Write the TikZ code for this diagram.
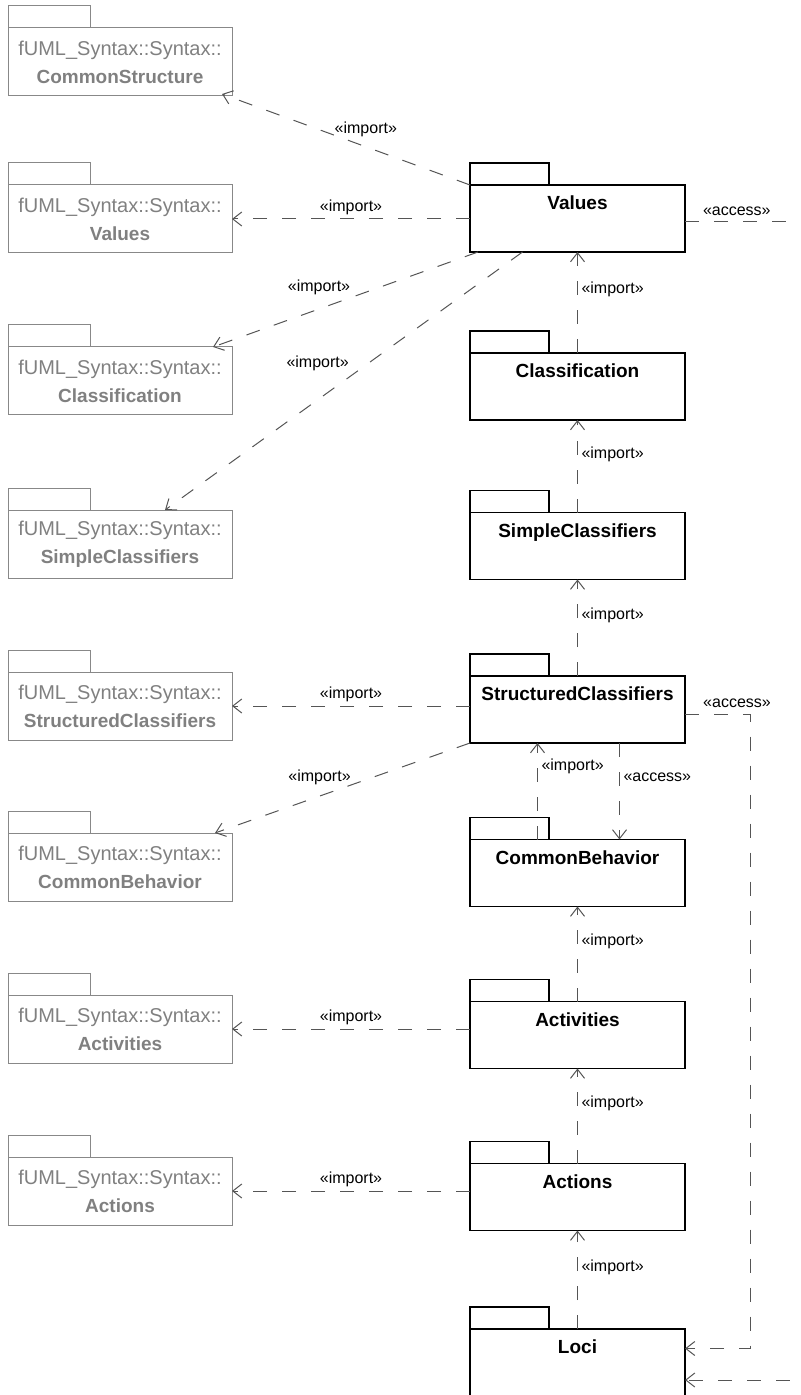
\documentclass[tikz,border=0pt]{standalone}
\usepackage{fontspec}
\setmainfont{Liberation Sans}
\usetikzlibrary{arrows.meta}

\definecolor{syngray}{HTML}{888888}
\definecolor{syntext}{HTML}{808080}
\definecolor{depgray}{HTML}{555555}

\begin{document}
\begin{tikzpicture}[
                    x=0.5pt, y=-0.5pt,
                    every node/.style={outer sep=0pt},
                    syn/.style={draw=syngray, line width=0.5pt, minimum width=112pt, minimum height=34pt,
                                inner sep=0pt, align=center, text=syntext, font=\fontsize{10}{14}\selectfont},
                    synTab/.style={draw=syngray, line width=0.5pt, minimum width=41pt, minimum height=11pt,
                                   inner sep=0pt, anchor=south west},
                    pkg/.style={draw, line width=0.6pt, minimum width=107.5pt, inner sep=0pt,
                                text height=12.4pt, text depth=21.1pt, font=\fontsize{9.5}{11}\selectfont\bfseries},
                    pkgTab/.style={draw, line width=0.6pt, minimum width=39.5pt, minimum height=11pt,
                                   inner sep=0pt, anchor=south west},
                    dep/.style={draw=depgray, line width=0.5pt, dash pattern=on 7pt off 7.5pt,
                                -{Straight Barb[length=4.5pt,width=7pt]}},
                    lbl/.style={font=\fontsize{8}{10}\selectfont, text=black, inner sep=2pt}
                  ]
  \useasboundingbox (0,0) rectangle (801,1395);

  % imported syntax packages
  \node[syn] (lcs) at (120,62) {fUML\_Syntax::Syntax::\\{\bfseries\fontsize{9.5}{14}\selectfont CommonStructure}};
  \node[synTab] (lcs-tab) at (lcs.north west) {};
  \node[syn] (lval) at (120,219) {fUML\_Syntax::Syntax::\\{\bfseries\fontsize{9.5}{14}\selectfont Values}};
  \node[synTab] (lval-tab) at (lval.north west) {};
  \node[syn] (lcls) at (120,381) {fUML\_Syntax::Syntax::\\{\bfseries\fontsize{9.5}{14}\selectfont Classification}};
  \node[synTab] (lcls-tab) at (lcls.north west) {};
  \node[syn] (lsc) at (120,544) {fUML\_Syntax::Syntax::\\{\bfseries\fontsize{9.5}{14}\selectfont SimpleClassifiers}};
  \node[synTab] (lsc-tab) at (lsc.north west) {};
  \node[syn] (lstc) at (120,706) {fUML\_Syntax::Syntax::\\{\bfseries\fontsize{9.5}{14}\selectfont StructuredClassifiers}};
  \node[synTab] (lstc-tab) at (lstc.north west) {};
  \node[syn] (lcb) at (120,867) {fUML\_Syntax::Syntax::\\{\bfseries\fontsize{9.5}{14}\selectfont CommonBehavior}};
  \node[synTab] (lcb-tab) at (lcb.north west) {};
  \node[syn] (lact) at (120,1029) {fUML\_Syntax::Syntax::\\{\bfseries\fontsize{9.5}{14}\selectfont Activities}};
  \node[synTab] (lact-tab) at (lact.north west) {};
  \node[syn] (lacn) at (120,1191) {fUML\_Syntax::Syntax::\\{\bfseries\fontsize{9.5}{14}\selectfont Actions}};
  \node[synTab] (lacn-tab) at (lacn.north west) {};

  % semantics packages
  \node[pkg] (val) at (577.5,218.5) {Values};
  \node[pkgTab] (val-tab) at (val.north west) {};
  \node[pkg] (cls) at (577.5,386.5) {Classification};
  \node[pkgTab] (cls-tab) at (cls.north west) {};
  \node[pkg] (sc) at (577.5,546) {SimpleClassifiers};
  \node[pkgTab] (sc-tab) at (sc.north west) {};
  \node[pkg] (stc) at (577.5,709.5) {StructuredClassifiers};
  \node[pkgTab] (stc-tab) at (stc.north west) {};
  \node[pkg] (cb) at (577.5,873) {CommonBehavior};
  \node[pkgTab] (cb-tab) at (cb.north west) {};
  \node[pkg] (act) at (577.5,1035) {Activities};
  \node[pkgTab] (act-tab) at (act.north west) {};
  \node[pkg] (acn) at (577.5,1197) {Actions};
  \node[pkgTab] (acn-tab) at (acn.north west) {};
  \node[pkg] (loci) at (577.5,1362.5) {Loci};
  \node[pkgTab] (loci-tab) at (loci.north west) {};

  % Values
  \draw[dep] (val.north west) -- ([xshift=-5pt,yshift=1pt]lcs.south east)
    node[lbl, pos=0.42, above=3pt] {«import»};
  \draw[dep] (val.west |- lval.east) -- (lval.east) node[lbl, midway, above] {«import»};
  \draw[dep] ([xshift=4pt]val.south west) -- ([xshift=-9.5pt]lcls.north east)
    node[lbl, pos=0.6, above=5pt] {«import»};
  \draw[dep] ([xshift=-27.5pt]val.south) -- ([xshift=22.5pt]lsc.north)
    node[lbl, pos=0.43, left=8pt] {«import»};
  \draw[dep] ([yshift=-1.5pt]val.east) -- ++(70pt,0pt) node[lbl, pos=0.37, above=1pt] {«access»}
    |- ([yshift=-8.75pt]loci.east);

  % chain down the right column
  \draw[dep] (cls.north) -- (val.south) node[lbl, pos=0.63, right] {«import»};
  \draw[dep] (sc.north) -- (cls.south) node[lbl, pos=0.63, right] {«import»};
  \draw[dep] (stc.north) -- (sc.south) node[lbl, pos=0.63, right] {«import»};

  % StructuredClassifiers
  \draw[dep] (stc.west |- lstc.east) -- (lstc.east) node[lbl, midway, above] {«import»};
  \draw[dep] (stc.south west) -- ([xshift=-8.5pt]lcb.north east)
    node[lbl, pos=0.59, above=3.5pt] {«import»};
  \draw[dep] ([xshift=-20pt]cb.north) -- ([xshift=-20pt]stc.south) node[lbl, pos=0.76, right] {«import»};
  \draw[dep] ([xshift=21pt]stc.south) -- ([xshift=21pt]cb.north) node[lbl, pos=0.35, right] {«access»};
  \draw[dep] ([yshift=-2.5pt]stc.east) -- ++(32.5pt,0pt) node[lbl, pos=0.8, above=1.5pt] {«access»}
    |- ([yshift=7pt]loci.east);

  % Activities, Actions, Loci
  \draw[dep] (act.north) -- (cb.south) node[lbl, pos=0.63, right] {«import»};
  \draw[dep] (act.west |- lact.east) -- (lact.east) node[lbl, midway, above] {«import»};
  \draw[dep] (acn.north) -- (act.south) node[lbl, pos=0.63, right] {«import»};
  \draw[dep] (acn.west |- lacn.east) -- (lacn.east) node[lbl, midway, above] {«import»};
  \draw[dep] (loci.north) -- (acn.south) node[lbl, pos=0.63, right] {«import»};
\end{tikzpicture}
\end{document}
